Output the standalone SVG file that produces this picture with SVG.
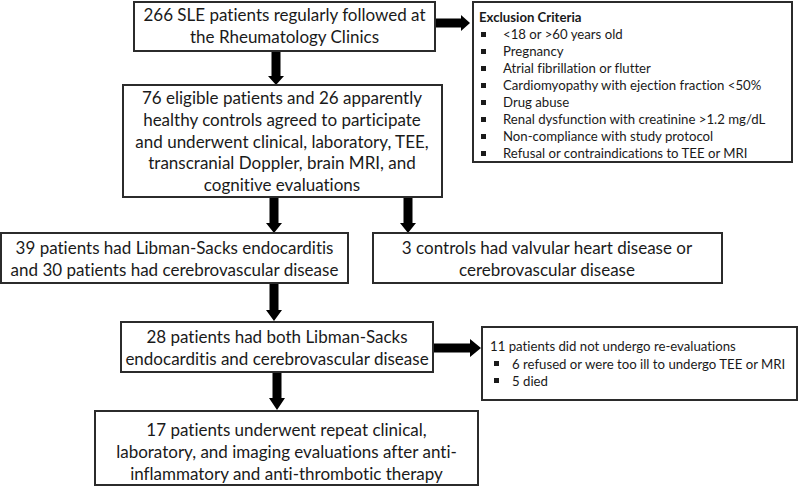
<svg xmlns="http://www.w3.org/2000/svg" width="800" height="486" viewBox="0 0 800 486">
<style>
.box{fill:#fff;stroke:#2b2b2b;stroke-width:2}
text{font-variant-ligatures:none;font-feature-settings:"liga" 0}
.t{font-family:Lato,"Liberation Sans",sans-serif;font-size:17px;fill:#1a1a1a;text-anchor:middle}
.s{font-family:Lato,"Liberation Sans",sans-serif;font-size:13.2px;fill:#1a1a1a}
.b{font-weight:bold}
.arr{fill:#000}
.bul{fill:#1a1a1a}
</style>
<rect width="800" height="486" fill="#fff"/>
<g id="connectors">
<polygon class="arr" points="271.5,51 280.5,51 280.5,76 284,76 276,85 268,76 271.5,76"/>
<polygon class="arr" points="435,18.5 461,18.5 461,15 470,23 461,31 461,27.5 435,27.5"/>
<polygon class="arr" points="269.5,197 278.5,197 278.5,223 282,223 274,233 266,223 269.5,223"/>
<polygon class="arr" points="403.5,197 412.5,197 412.5,223 416,223 408,233 400,223 403.5,223"/>
<polygon class="arr" points="269.5,283 278.5,283 278.5,310 282,310 274,321 266,310 269.5,310"/>
<polygon class="arr" points="272.5,372 281.5,372 281.5,398 285,398 277,410 269,398 272.5,398"/>
<polygon class="arr" points="433,343.5 470,343.5 470,339 481,348 470,357 470,352.5 433,352.5"/>
</g>
<g id="n1">
<rect class="box" x="134" y="2" width="301" height="49"/>
<text class="t" x="284.5" y="21">266 SLE patients regularly followed at</text>
<text class="t" x="284.5" y="43">the Rheumatology Clinics</text>
</g>
<g id="n2">
<rect class="box" x="473" y="2" width="319" height="160"/>
<text class="s b" x="479" y="22">Exclusion Criteria</text>
<g class="bul">
<rect x="481" y="32" width="5" height="5"/>
<rect x="481" y="49" width="5" height="5"/>
<rect x="481" y="66" width="5" height="5"/>
<rect x="481" y="83" width="5" height="5"/>
<rect x="481" y="100" width="5" height="5"/>
<rect x="481" y="117" width="5" height="5"/>
<rect x="481" y="134" width="5" height="5"/>
<rect x="481" y="151" width="5" height="5"/>
</g>
<text class="s" x="503" y="39">&lt;18 or &gt;60 years old</text>
<text class="s" x="503" y="56">Pregnancy</text>
<text class="s" x="503" y="73">Atrial fibrillation or flutter</text>
<text class="s" x="503" y="90">Cardiomyopathy with ejection fraction &lt;50%</text>
<text class="s" x="503" y="107">Drug abuse</text>
<text class="s" x="503" y="124">Renal dysfunction with creatinine &gt;1.2 mg/dL</text>
<text class="s" x="503" y="141">Non-compliance with study protocol</text>
<text class="s" x="503" y="158">Refusal or contraindications to TEE or MRI</text>
</g>
<g id="n3">
<rect class="box" x="123" y="85" width="319" height="112"/>
<text class="t" x="282" y="104">76 eligible patients and 26 apparently</text>
<text class="t" x="282" y="126">healthy controls agreed to participate</text>
<text class="t" x="282" y="147.5">and underwent clinical, laboratory, TEE,</text>
<text class="t" x="282" y="169">transcranial Doppler, brain MRI, and</text>
<text class="t" x="282" y="191">cognitive evaluations</text>
</g>
<g id="n4">
<rect class="box" x="1" y="233" width="347" height="50"/>
<text class="t" x="174.5" y="254">39 patients had Libman-Sacks endocarditis</text>
<text class="t" x="174.5" y="276">and 30 patients had cerebrovascular disease</text>
</g>
<g id="n5">
<rect class="box" x="373" y="233" width="349" height="50"/>
<text class="t" x="547" y="254">3 controls had valvular heart disease or</text>
<text class="t" x="547" y="276">cerebrovascular disease</text>
</g>
<g id="n6">
<rect class="box" x="121" y="322" width="312" height="50"/>
<text class="t" x="277" y="342.5">28 patients had both Libman-Sacks</text>
<text class="t" x="277" y="365">endocarditis and cerebrovascular disease</text>
</g>
<g id="n7">
<rect class="box" x="482" y="327" width="315" height="73"/>
<text class="s" x="490" y="350.5">11 patients did not undergo re-evaluations</text>
<rect class="bul" x="494" y="361" width="5" height="5"/>
<rect class="bul" x="494" y="378" width="5" height="5"/>
<text class="s" x="512" y="368.5">6 refused or were too ill to undergo TEE or MRI</text>
<text class="s" x="512" y="385.5">5 died</text>
</g>
<g id="n8">
<rect class="box" x="95" y="411" width="383" height="74"/>
<text class="t" x="286.5" y="436">17 patients underwent repeat clinical,</text>
<text class="t" x="286.5" y="458">laboratory, and imaging evaluations after anti-</text>
<text class="t" x="286.5" y="480">inflammatory and anti-thrombotic therapy</text>
</g>
</svg>
